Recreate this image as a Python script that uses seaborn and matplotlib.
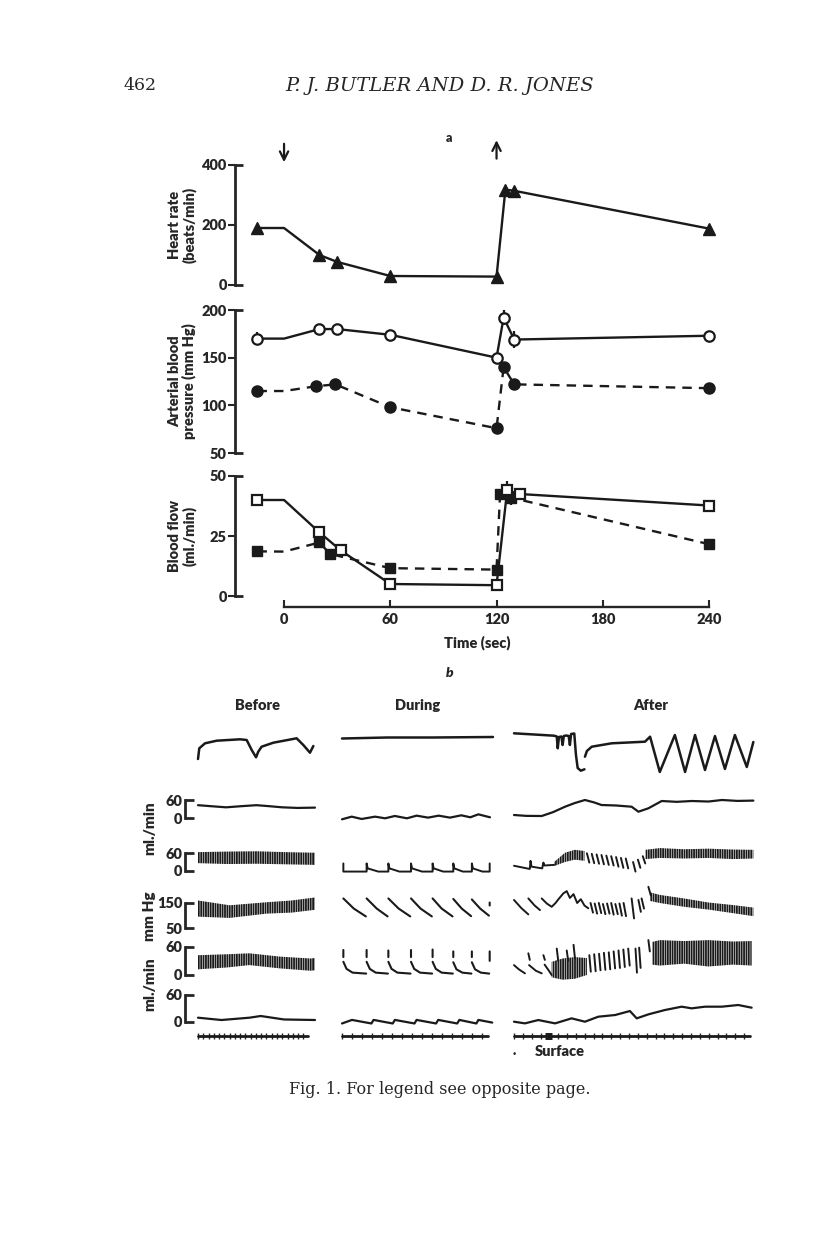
import numpy as np
import matplotlib
matplotlib.use("Agg")
import matplotlib.pyplot as plt
from matplotlib.ticker import FixedLocator
import seaborn as sns

nan = np.nan

# ---------------- panel a : values ----------------
hr_time = [-15, 0, 20, 30, 60, 120, 125, 130, 240]
hr_rate = [190, 190, 100, 77, 30, 28, 318, 314, 188]

sys_time = [-15, 0, 20, 30, 60, 120, 124, 130, 240]
sys_bp = [170, 170, 180, 180, 174, 150, 192, 169, 173]
sys_err = [7, 0, 5, 0, 0, 0, 8, 9, 0]

dia_time = [-15, 0, 18, 29, 60, 120, 124, 130, 240]
dia_bp = [115, 115, 120, 122, 98, 76, 140, 122, 118]

flow_open_time = [-15, 0, 20, 32, 60, 120, 126, 133, 240]
flow_open = [40, 40, 26.5, 19, 5, 4.5, 44, 42.5, 37.7]
flow_open_err = [0, 0, 0, 0, 0, 0, 4, 2.5, 0]

flow_fill_time = [-15, 0, 20, 26, 60, 120, 122, 128, 240]
flow_fill = [18.6, 18.5, 22.3, 17.5, 11.6, 11, 42.6, 41, 21.6]
flow_fill_err = [0, 0, 0, 0, 0, 0, 0, 3, 0]

# the t=0 vertex of every series has no symbol
has_marker = [True, False, True, True, True, True, True, True, True]

time_ticks = [0, 60, 120, 180, 240]
dive_start, dive_end = 0, 120

# ---------------- panel b : traces (x = % along each strip) ----------------
# row 0, respiration (arbitrary units)
before_resp_x = [0, 1.1, 6, 16, 35.9, 41.6, 45.9, 49.6, 51.5, 54.4, 64.4, 84.3, 90, 95.7, 98.6]
before_resp_y = [16, 26.7, 31.7, 34.3, 35.7, 35, 25, 17.7, 23.3, 28.3, 32.3, 36.7, 30, 22.3, 29]
during_resp_x = [0, 30, 60, 100]
during_resp_y = [36.5, 37.5, 37.5, 38]
after_resp_x = [0, 16.5, 17.6, 18.0, 18.5, 19.5, 20.0, 20.5, 21.5, 22.5, 23.0, 23.5, 24.8, 25.5, 26.2,
                27.5, 29.0, nan, 29.2, 30, 32, 40.2, 53.9, 56, 60, 66.2, 70.4, 74.5, 78.6, 82.7, 86.8,
                90.9, 95.8, 98.5]
after_resp_y = [41.7, 39.3, 38.5, 26.7, 38, 38.5, 30, 39, 39.5, 39, 30, 41, 41.5, 20, 7,
                4.3, 5.7, nan, 18.3, 24, 28.3, 31.7, 33.3, 38.3, 3, 40, 3, 40, 5, 39, 6,
                40, 8, 33]

# row 1, flow ml./min
before_f1_x = [0, 10, 24, 38, 50, 60, 72, 85, 100]
before_f1_y = [43, 40, 36, 40, 43, 40, 36, 34, 35]
during_f1_x = [0, 6.4, 13, 21.9, 28.5, 35, 43, 49.4, 57, 64, 71.5, 79, 85, 90.3, 98]
during_f1_y = [-3.3, 5.4, -2.2, 5.4, 0, 7.6, 0, 8.7, 2.2, 8.7, 2.2, 9.8, 3.3, 13, 3.3]
after_f1_x = [0, 5, 11.4, 16, 21, 25, 29.2, 33, 36, 42, 48.4, 51.2, 55.3, 60.8, 67, 73.2, 80, 85.6, 92, 98.5]
after_f1_y = [10.8, 8, 7.5, 20, 38, 50, 60, 52, 43.6, 42, 38, 21.6, 32.8, 56.7, 54, 56.7, 55, 60, 57, 58]

# row 2, flow ml./min
before_f2_band_x = [0, 25, 50, 75, 100]
before_f2_top = [64, 66, 67, 64, 62]
before_f2_bot = [26, 23, 24, 22, 20]
during_f2_x = [0.9, 0.9, 8, 16.3, 16.3, 17, 24, 30.7, 30.7, 31.4, 38, 45.7, 45.7, 46.4, 53, 60, 60,
               60.7, 67, 73.7, 73.7, 74.4, 80, 86, 86, 86.7, 93, 97.8, 97.8]
during_f2_y = [25, -3, -3, -3, 25, 8, -3, -3, 25, 8, -3, -3, 25, 8, -3, -3, 25,
               8, -3, -3, 25, 8, -3, -3, 25, 8, -3, -3, 25]
after_f2_x = [0, 6.5, 6.8, 7.2, 11.6, 12.1, 12.5, 16.5]
after_f2_y = [17, 6, 34, 14, 8, 28, 18, 20]
after_f2_band1_x = [16.5, 21, 25, 29]
after_f2_band1_top = [30, 62, 72, 68]
after_f2_band1_bot = [16, 30, 38, 34]
after_f2_stroke_x = [30, 32, 34, 36, 38, 40, 42, 44, 46, 49, 51, 53]
after_f2_stroke_top = [60, 58, 56, 54, 52, 50, 47, 44, 42, 30, 38, 50]
after_f2_stroke_bot = [28, 26, 24, 22, 20, 18, 14, 10, 8, -3, 10, 25]
after_f2_band2_x = [54, 60, 70, 80, 90, 98.5]
after_f2_band2_top = [72, 78, 74, 76, 73, 72]
after_f2_band2_bot = [40, 44, 42, 44, 40, 42]

# row 3, blood pressure mm Hg
before_bp_band_x = [0, 27, 58.7, 80, 100]
before_bp_top = [160, 141, 153, 160, 172]
before_bp_bot = [96, 91, 108, 112, 123]
during_bp_x = [0.9, 7.8, 15.8, nan, 16.3, 23, 30.2, nan, 30.7, 37.5, 45.2, nan, 45.7, 52, 59.5, nan,
               60, 66, 73.2, nan, 73.7, 79.3, 85.5, nan, 86, 91.5, 97.3, nan, 97.8, 97.8]
during_bp_y = [168, 128, 97, nan, 168, 128, 97, nan, 168, 128, 97, nan, 168, 128, 97, nan,
               168, 128, 97, nan, 166, 128, 98, nan, 164, 128, 100, nan, 152, 140]
after_bp_x = [0, 3, 5.9, nan, 5.9, 8.5, 10.7, nan, 11.4, 13.5, 15.5, 17, 18.3, 20.3, 21.7, 23, 24.5,
              26, 27.5, 29, 30.6]
after_bp_y = [162, 130, 105, nan, 168, 140, 122, nan, 168, 148, 135, 149, 165, 188, 197, 170, 185,
              150, 165, 140, 129]
after_bp_stroke_x = [31.5, 33.2, 34.9, 36.6, 38.3, 40, 41.7, 43.4, 45.1, 48.4, 51.2, 52.5, 55.3]
after_bp_stroke_top = [150, 148, 150, 146, 148, 150, 146, 148, 150, 168, 162, 168, 214]
after_bp_stroke_bot = [112, 108, 110, 106, 108, 104, 106, 100, 98, 89, 115, 128, 180]
after_bp_band_x = [56, 60, 70, 80, 90, 98.5]
after_bp_top = [192, 182, 168, 152, 142, 132]
after_bp_bot = [158, 150, 135, 124, 110, 98]

# row 4, flow ml./min
before_f4_band_x = [0, 25, 44, 70, 96, 100]
before_f4_top = [42, 44, 46, 39, 35, 36]
before_f4_bot = [12, 16, 21, 14, 9, 10]
during_f4_x = [0.9, 0.9, nan, 0.9, 3, 7, 16, nan, 16.3, 16.3, nan, 16.3, 18.4, 22.3, 30.4, nan,
               30.7, 30.7, nan, 30.7, 32.8, 36.7, 45.4, nan, 45.7, 45.7, nan, 45.7, 47.8, 51.7, 59.7, nan,
               60, 60, nan, 60, 62.1, 66, 73.4, nan, 73.7, 73.7, nan, 73.7, 75.8, 79.7, 85.7, nan,
               86, 86, nan, 86, 88.1, 92, 97.5, nan, 97.8, 97.8]
during_f4_y = [53, 38, nan, 28, 13, 5, 3, nan, 53, 38, nan, 28, 13, 5, 3, nan,
               52, 38, nan, 28, 13, 5, 3, nan, 53, 38, nan, 28, 13, 5, 3, nan,
               54, 38, nan, 28, 13, 5, 3, nan, 50, 38, nan, 27, 12, 5, 3, nan,
               50, 38, nan, 27, 12, 5, 3, nan, 50, 30]
after_f4_x = [0, 2, 4.5, nan, 6.2, 9, 11.4, nan, 12.6, 14.5, 15.5]
after_f4_y = [21, 12, 3.5, nan, 21, 9, 3.5, nan, 22, 8, 0]
after_f4_band1_x = [15.5, 20, 25, 30]
after_f4_band1_top = [28, 35, 38, 36]
after_f4_band1_bot = [-5, -10, -8, 0]
after_f4_stroke_x = [5.9, 12.1, 17.6, 21.7, 24.5, 31, 33, 35, 37, 39, 41, 43, 45, 47, 50, 51.5, 55.3]
after_f4_stroke_top = [46, 42, 56, 52, 64, 42, 44, 45, 47, 48, 50, 52, 54, 56, 56, 58, 74]
after_f4_stroke_bot = [32, 32, 30, 30, 35, 7, 8, 10, 11, 12, 14, 15, 17, 20, 5, 15, 50]
after_f4_band2_x = [56.8, 60, 70, 80, 90, 97.8]
after_f4_band2_top = [70, 74, 72, 74, 71, 72]
after_f4_band2_bot = [22, 20, 24, 18, 22, 20]

# row 5, flow ml./min
before_f5_x = [0, 20, 44, 53.6, 73.5, 100]
before_f5_y = [9, 3.8, 9, 12.8, 5, 3.8]
during_f5_x = [0, 6.6, 19.5, 20.9, 33.6, 35, 48, 49.4, 62.3, 63.7, 76.3, 77.7, 89, 90.3, 99.5]
during_f5_y = [-4, 4, -4, 4, -4, 4, -4, 4, -4, 4, -4, 4, -4, 4, -2]
after_f5_x = [0, 4.5, 10, 16.9, 23.7, 29.2, 34.7, 41.6, 47.7, 50.5, 55.3, 62.1, 69, 73.1, 78.6, 85.5, 92.3, 97.8]
after_f5_y = [0, -3.75, 3.75, -3.75, 7.5, 0, 11.25, 15, 24, 7.5, 16.5, 26.25, 33.75, 30, 33.75, 33.75, 37.5, 31.5]

# time marker line and surfacing mark
marker_end = {"Before": 94, "During": 97, "After": 97}
marker_step = {"Before": 4.5, "During": 6.6, "After": 3.7}
surface_mark = [11.4, 14.1]
surface_label_x = 17.7

row_scale = [None, (0, 60), (0, 60), (50, 150), (0, 60), (0, 60)]

# ---------------------------------------------------------------------------
sns.set_theme(style="white")
plt.rcParams['font.family'] = ['Lato', 'DejaVu Sans']
plt.rcParams['font.weight'] = 'heavy'
plt.rcParams['axes.labelweight'] = 'heavy'
plt.rcParams['hatch.linewidth'] = 1.3

W, H = 816, 1244
fig = plt.figure(figsize=(W / 100, H / 100), dpi=100)
fig.patch.set_facecolor('white')


def px_axes(x0, y0, x1, y1):
    ax = fig.add_axes([x0 / W, 1 - y1 / H, (x1 - x0) / W, (y1 - y0) / H])
    ax.set_facecolor('none')
    for s in ax.spines.values():
        s.set_visible(False)
    return ax


def fig_text(x, y, s, **kw):
    fig.text(x / W, 1 - y / H, s, **kw)


# header and caption
serif = ['DejaVu Serif']
fig_text(140, 86, "462", family=serif, fontsize=12.5, weight='normal', ha='center', va='center')
fig_text(440, 86, "P. J. BUTLER AND D. R. JONES", family=serif, style='italic', fontsize=14,
         weight='normal', ha='center', va='center')
fig_text(449, 138, "a", fontsize=9, ha='center', va='center')
fig_text(450, 673, "b", fontsize=10, style='italic', ha='center', va='center')
fig_text(440, 1090, "Fig. 1. For legend see opposite page.", family=serif, fontsize=11.5,
         weight='normal', ha='center', va='center')

# ---------------- panel a ----------------
ax_hr = px_axes(235, 165, 720, 285)
ax_bp = px_axes(235, 310, 720, 453)
ax_bf = px_axes(235, 476, 720, 596)

xlim = (-27.7, 246.2)
for ax, lim, ticks, label in [
        (ax_hr, (0, 400), [0, 200, 400], "Heart rate\n(beats/min)"),
        (ax_bp, (50, 200), [50, 100, 150, 200], "Arterial blood\npressure (mm Hg)"),
        (ax_bf, (0, 50), [0, 25, 50], "Blood flow\n(ml./min)")]:
    ax.set_xlim(xlim)
    ax.set_ylim(lim)
    ax.spines['left'].set_visible(True)
    ax.spines['left'].set_linewidth(2)
    ax.set_yticks(ticks)
    ax.yaxis.remove_overlapping_locs = False
    ax.yaxis.set_minor_locator(FixedLocator(list(lim)))
    ax.tick_params(axis='y', which='major', direction='out', length=5, width=1.5,
                   labelsize=10.5, pad=1, left=True)
    ax.tick_params(axis='y', which='minor', direction='in', length=6, width=2, left=True)
    ax.set_xticks([])
    ax.set_ylabel(label, fontsize=10.5, linespacing=1.05)
    ax.yaxis.set_label_coords(-0.08, 0.5)

line_kw = dict(color='k', linewidth=1.7, estimator=None, sort=False, legend=False)


def marked(xs, ys):
    return ([x for x, m in zip(xs, has_marker) if m], [y for y, m in zip(ys, has_marker) if m])


# heart rate
sns.lineplot(x=hr_time, y=hr_rate, ax=ax_hr, **line_kw)
mx, my = marked(hr_time, hr_rate)
ax_hr.plot(mx, my, linestyle='none', marker='^', markersize=8.5, color='k', clip_on=False, zorder=3)

# arterial pressure: systolic open, diastolic filled
sns.lineplot(x=sys_time, y=sys_bp, ax=ax_bp, **line_kw)
sns.lineplot(x=dia_time, y=dia_bp, ax=ax_bp, linestyle=(0, (4, 3)), **line_kw)
ax_bp.errorbar(sys_time, sys_bp, yerr=sys_err, fmt='none', ecolor='k', elinewidth=1.6, capsize=0)
mx, my = marked(sys_time, sys_bp)
ax_bp.plot(mx, my, linestyle='none', marker='o', markersize=7.5, markerfacecolor='white',
           markeredgecolor='k', markeredgewidth=1.6, zorder=3)
mx, my = marked(dia_time, dia_bp)
ax_bp.plot(mx, my, linestyle='none', marker='o', markersize=8, color='k', zorder=3)

# blood flow: open and filled squares
sns.lineplot(x=flow_open_time, y=flow_open, ax=ax_bf, **line_kw)
sns.lineplot(x=flow_fill_time, y=flow_fill, ax=ax_bf, linestyle=(0, (4, 3)), **line_kw)
ax_bf.errorbar(flow_open_time, flow_open, yerr=flow_open_err, fmt='none', ecolor='k', elinewidth=1.6)
ax_bf.errorbar(flow_fill_time, flow_fill, yerr=flow_fill_err, fmt='none', ecolor='k', elinewidth=1.6)
mx, my = marked(flow_fill_time, flow_fill)
ax_bf.plot(mx, my, linestyle='none', marker='s', markersize=7.5, color='k', zorder=3)
mx, my = marked(flow_open_time, flow_open)
ax_bf.plot(mx, my, linestyle='none', marker='s', markersize=7.5, markerfacecolor='white',
           markeredgecolor='k', markeredgewidth=1.6, zorder=4)

# time axis below the bottom graph
ax_bf.spines['bottom'].set_visible(True)
ax_bf.spines['bottom'].set_linewidth(1.7)
ax_bf.spines['bottom'].set_position(('outward', 8))
ax_bf.spines['bottom'].set_bounds(0, 240)
ax_bf.set_xticks(time_ticks)
ax_bf.xaxis.set_ticks_position('bottom')
ax_bf.tick_params(axis='x', direction='in', length=5, width=1.5, labelsize=10.5, pad=4, bottom=True)
ax_bf.xaxis.set_label_position('bottom')
ax_bf.set_xlabel("Time (sec)", fontsize=10.5, labelpad=7)
ax_bf.xaxis.label.set_visible(True)   # seaborn hid it while the ticks were empty

# dive arrows
arrow_kw = dict(arrowstyle='->,head_length=0.5,head_width=0.25', color='k', lw=1.6)
ax_hr.annotate("", xy=(dive_start, 1.0), xytext=(dive_start, 1.2),
               xycoords=ax_hr.get_xaxis_transform(), arrowprops=arrow_kw)
ax_hr.annotate("", xy=(dive_end, 1.23), xytext=(dive_end, 1.03),
               xycoords=ax_hr.get_xaxis_transform(), arrowprops=arrow_kw)

# ---------------- panel b ----------------
columns = {"Before": (198, 315), "During": (342, 493), "After": (514, 757)}
headings_x = {"Before": 257, "During": 418, "After": 651}
rows_px = [(725, 775), (800, 818.3), (853.3, 870.7), (903, 928.3), (946.7, 975), (995, 1021.7)]
row_lim = [(0, 50), (0, 60), (0, 60), (50, 150), (0, 60), (0, 60)]

axes_b = {}
for name, (x0, x1) in columns.items():
    for r, (y0, y1) in enumerate(rows_px):
        ax = px_axes(x0, y0, x1, y1)
        ax.set_xlim(0, 100)
        ax.set_ylim(row_lim[r])
        ax.set_xticks([])
        ax.set_yticks([])
        if name == "Before" and row_scale[r] is not None:
            sp = ax.spines['left']
            sp.set_visible(True)
            sp.set_linewidth(2)
            sp.set_position(('outward', 9.4))
            ax.set_yticks(list(row_scale[r]))
            ax.tick_params(axis='y', direction='in', length=6.5, width=2, labelsize=10.5,
                           pad=2, left=True)
        axes_b[(name, r)] = ax
    fig_text(headings_x[name], 705, name, fontsize=10.5, ha='center', va='center')


def trace(name, r, xs, ys, lw=1.6):
    axes_b[(name, r)].plot(xs, ys, color='k', linewidth=lw, clip_on=False, solid_capstyle='round')


def band(name, r, xs, top, bot):
    axes_b[(name, r)].fill_between(xs, bot, top, facecolor='none', edgecolor='k',
                                   hatch='|||||||', linewidth=0, clip_on=False)


def strokes(name, r, xs, top, bot, slant=1.0):
    sx, sy = [], []
    for x, t, b in zip(xs, top, bot):
        sx += [x, x + slant, nan]
        sy += [t, b, nan]
    axes_b[(name, r)].plot(sx, sy, color='k', linewidth=1.4, clip_on=False)


trace("Before", 0, before_resp_x, before_resp_y, 1.8)
trace("During", 0, during_resp_x, during_resp_y, 1.8)
trace("After", 0, after_resp_x, after_resp_y, 1.8)

trace("Before", 1, before_f1_x, before_f1_y)
trace("During", 1, during_f1_x, during_f1_y)
trace("After", 1, after_f1_x, after_f1_y)

band("Before", 2, before_f2_band_x, before_f2_top, before_f2_bot)
trace("During", 2, during_f2_x, during_f2_y, 1.4)
trace("After", 2, after_f2_x, after_f2_y, 1.4)
band("After", 2, after_f2_band1_x, after_f2_band1_top, after_f2_band1_bot)
strokes("After", 2, after_f2_stroke_x, after_f2_stroke_top, after_f2_stroke_bot)
band("After", 2, after_f2_band2_x, after_f2_band2_top, after_f2_band2_bot)

band("Before", 3, before_bp_band_x, before_bp_top, before_bp_bot)
trace("During", 3, during_bp_x, during_bp_y, 1.5)
trace("After", 3, after_bp_x, after_bp_y, 1.4)
strokes("After", 3, after_bp_stroke_x, after_bp_stroke_top, after_bp_stroke_bot)
band("After", 3, after_bp_band_x, after_bp_top, after_bp_bot)

band("Before", 4, before_f4_band_x, before_f4_top, before_f4_bot)
trace("During", 4, during_f4_x, during_f4_y, 1.5)
trace("After", 4, after_f4_x, after_f4_y, 1.4)
band("After", 4, after_f4_band1_x, after_f4_band1_top, after_f4_band1_bot)
strokes("After", 4, after_f4_stroke_x, after_f4_stroke_top, after_f4_stroke_bot, slant=0.6)
band("After", 4, after_f4_band2_x, after_f4_band2_top, after_f4_band2_bot)

trace("Before", 5, before_f5_x, before_f5_y)
trace("During", 5, during_f5_x, during_f5_y)
trace("After", 5, after_f5_x, after_f5_y)

# time marker strips
for name, (x0, x1) in columns.items():
    ax = px_axes(x0, 1030, x1, 1035.7)
    ax.set_xlim(0, 100)
    ax.set_ylim(0, 1)
    ax.set_yticks([])
    start = -1.6 if name == "After" else 0
    ax.plot([start, marker_end[name]], [0, 0], color='k', linewidth=2, clip_on=False)
    ax.set_xticks(np.arange(start, marker_end[name] + 0.1, marker_step[name]))
    ax.tick_params(axis='x', direction='inout', length=4, width=1, labelbottom=False, bottom=True)
    if name == "After":
        ax.plot(surface_mark, [0, 0], color='k', linewidth=5, solid_capstyle='butt', clip_on=False)
        ax.text(surface_label_x, -2.8, "Surface", fontsize=10.5, ha='center', va='center')
        ax.text(-1.6, -2.6, ".", fontsize=10, ha='center', va='center')

# units written down the left margin
fig_text(150, 828, "ml./min", rotation=90, fontsize=11, ha='center', va='center')
fig_text(150, 916, "mm Hg", rotation=90, fontsize=11, ha='center', va='center')
fig_text(150, 984, "ml./min", rotation=90, fontsize=11, ha='center', va='center')

fig.savefig("out.png", dpi=100)
